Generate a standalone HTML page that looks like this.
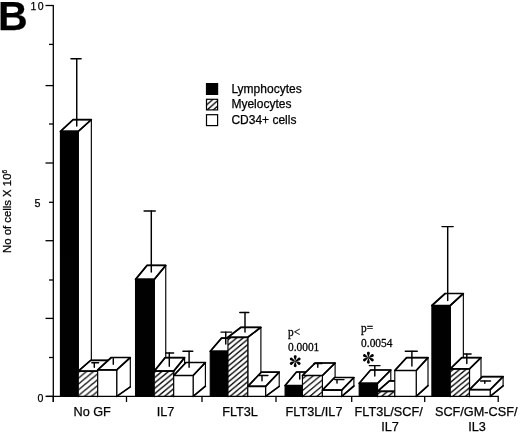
<!DOCTYPE html>
<html><head><meta charset="utf-8"><title>B</title>
<style>
html,body{margin:0;padding:0;background:#fff;}
body{width:520px;height:433px;overflow:hidden;font-family:"Liberation Sans",sans-serif;}
svg{display:block;opacity:0.999;will-change:transform;}
text{font-family:"Liberation Sans",sans-serif;fill:#000;stroke:#000;stroke-width:0.25px;}
.ser{font-family:"Liberation Serif",serif;}
</style></head><body>
<svg width="520" height="433" viewBox="0 0 520 433">
<defs>
<pattern id="hatch0" width="6.99" height="5.8" patternUnits="userSpaceOnUse" patternTransform="translate(1.58,1.2)"><path d="M-3.49,8.7 L10.48,-2.9 M-3.49,2.9 L3.49,-2.9 M3.49,8.7 L10.48,2.9" stroke="#000" stroke-width="1.3" fill="none"/></pattern>
<pattern id="hatch1" width="6.51" height="5.4" patternUnits="userSpaceOnUse" patternTransform="translate(4.86,5)"><path d="M-3.25,8.1 L9.76,-2.7 M-3.25,2.7 L3.25,-2.7 M3.25,8.1 L9.76,2.7" stroke="#000" stroke-width="1.3" fill="none"/></pattern>
<pattern id="hatch2" width="6.39" height="5.3" patternUnits="userSpaceOnUse" patternTransform="translate(5.41,5)"><path d="M-3.19,7.95 L9.58,-2.65 M-3.19,2.65 L3.19,-2.65 M3.19,7.95 L9.58,2.65" stroke="#000" stroke-width="1.3" fill="none"/></pattern>
<pattern id="hatch3" width="7.11" height="5.9" patternUnits="userSpaceOnUse" patternTransform="translate(4.45,0.7)"><path d="M-3.55,8.85 L10.66,-2.95 M-3.55,2.95 L3.55,-2.95 M3.55,8.85 L10.66,2.95" stroke="#000" stroke-width="1.3" fill="none"/></pattern>
<pattern id="hatch4" width="6.63" height="5.5" patternUnits="userSpaceOnUse" patternTransform="translate(1.99,1.8)"><path d="M-3.31,8.25 L9.94,-2.75 M-3.31,2.75 L3.31,-2.75 M3.31,8.25 L9.94,2.75" stroke="#000" stroke-width="1.3" fill="none"/></pattern>
<pattern id="hatch5" width="6.39" height="5.3" patternUnits="userSpaceOnUse" patternTransform="translate(3.81,0.2)"><path d="M-3.19,7.95 L9.58,-2.65 M-3.19,2.65 L3.19,-2.65 M3.19,7.95 L9.58,2.65" stroke="#000" stroke-width="1.3" fill="none"/></pattern>
<pattern id="hatchL" width="6.2" height="5.5" patternUnits="userSpaceOnUse" patternTransform="translate(2.6,5.4)">
<path d="M-3.1,8.25 L9.3,-2.75 M-3.1,2.75 L3.1,-2.75 M3.1,8.25 L9.3,2.75" stroke="#000" stroke-width="1.3" fill="none"/>
</pattern>
</defs>
<rect width="520" height="433" fill="#fff"/>
<text x="-1.9" y="30.1" font-size="41" font-weight="bold" stroke="none">B</text>
<g stroke="#000" stroke-width="1.3" fill="none">
<line x1="53.3" y1="4.9" x2="53.3" y2="402"/>
<line x1="46.2" y1="396.4" x2="498.8" y2="396.4"/>
<line x1="45.5" y1="396.4" x2="53.3" y2="396.4"/>
<line x1="49" y1="357.5" x2="53.3" y2="357.5"/>
<line x1="45.5" y1="318.4" x2="53.3" y2="318.4"/>
<line x1="49" y1="280" x2="53.3" y2="280"/>
<line x1="45.5" y1="240.7" x2="53.3" y2="240.7"/>
<line x1="49" y1="202.3" x2="53.3" y2="202.3"/>
<line x1="45.5" y1="163" x2="53.3" y2="163"/>
<line x1="49" y1="124" x2="53.3" y2="124"/>
<line x1="45.5" y1="85.6" x2="53.3" y2="85.6"/>
<line x1="49" y1="44.4" x2="53.3" y2="44.4"/>
<line x1="45.5" y1="5.5" x2="53.3" y2="5.5"/>
<line x1="53.3" y1="396.4" x2="53.3" y2="402"/>
<line x1="126.5" y1="396.4" x2="126.5" y2="402"/>
<line x1="202" y1="396.4" x2="202" y2="402"/>
<line x1="276" y1="396.4" x2="276" y2="402"/>
<line x1="351.7" y1="396.4" x2="351.7" y2="402"/>
<line x1="424.7" y1="396.4" x2="424.7" y2="402"/>
<line x1="498.2" y1="396.4" x2="498.2" y2="402"/>
</g>
<g stroke="#000" stroke-width="1.15" stroke-linejoin="round" stroke-linecap="round">
<polygon points="78.25,131.4 91.35,119.6 91.35,386.37 78.25,396.4" fill="#fff"/>
<polygon points="60.45,131.4 73.15,119.6 91.35,119.6 78.25,131.4" fill="#fff"/>
<polygon points="60.45,131.4 78.25,131.4 78.25,396.4 60.45,396.4" fill="#000"/>
<path d="M78.25,131.4 L60.45,131.4 L73.15,119.6 L91.35,119.6 L78.25,131.4 M78.25,396.4 L91.35,386.37" fill="none" stroke-width="1.7"/>
<line x1="76.75" y1="58.8" x2="76.75" y2="126" stroke-width="1.45"/>
<line x1="71" y1="58.8" x2="81.1" y2="58.8" stroke-width="1.45"/>
<polygon points="97.7,371.2 110.1,360.4 110.1,387.22 97.7,396.4" fill="#fff"/>
<polygon points="78.25,371.2 90.65,360.4 110.1,360.4 97.7,371.2" fill="#fff"/>
<polygon points="78.25,371.2 97.7,371.2 97.7,396.4 78.25,396.4" fill="#fff" stroke="none"/>
<polygon points="78.25,371.2 97.7,371.2 97.7,396.4 78.25,396.4" fill="url(#hatch0)"/>
<path d="M97.7,371.2 L78.25,371.2 L90.65,360.4 L110.1,360.4 L97.7,371.2 M97.7,396.4 L110.1,387.22" fill="none" stroke-width="1.7"/>
<line x1="94.3" y1="362.7" x2="94.3" y2="367.3" stroke-width="1.45"/>
<line x1="91.8" y1="362.7" x2="98.6" y2="362.7" stroke-width="1.45"/>
<polygon points="116.7,369.9 130.3,357.5 130.3,386.9 116.7,396.4" fill="#fff"/>
<polygon points="97.7,369.9 111.3,357.5 130.3,357.5 116.7,369.9" fill="#fff"/>
<polygon points="97.7,369.9 116.7,369.9 116.7,396.4 97.7,396.4" fill="#fff"/>
<path d="M116.7,369.9 L97.7,369.9 L111.3,357.5 L130.3,357.5 L116.7,369.9 M116.7,396.4 L130.3,386.9" fill="none" stroke-width="1.7"/>
<line x1="113.3" y1="358" x2="113.3" y2="364.2" stroke-width="1.45"/>
<polygon points="154.25,279.4 165.75,265.4 165.75,384.5 154.25,396.4" fill="#fff"/>
<polygon points="135.55,279.4 147.05,265.4 165.75,265.4 154.25,279.4" fill="#fff"/>
<polygon points="135.55,279.4 154.25,279.4 154.25,396.4 135.55,396.4" fill="#000"/>
<path d="M154.25,279.4 L135.55,279.4 L147.05,265.4 L165.75,265.4 L154.25,279.4 M154.25,396.4 L165.75,384.5" fill="none" stroke-width="1.7"/>
<line x1="151.3" y1="210.9" x2="151.3" y2="272" stroke-width="1.45"/>
<line x1="144.1" y1="210.9" x2="155.3" y2="210.9" stroke-width="1.45"/>
<polygon points="173.7,371.1 184.6,357.6 184.6,384.92 173.7,396.4" fill="#fff"/>
<polygon points="154.25,371.1 165.15,357.6 184.6,357.6 173.7,371.1" fill="#fff"/>
<polygon points="154.25,371.1 173.7,371.1 173.7,396.4 154.25,396.4" fill="#fff" stroke="none"/>
<polygon points="154.25,371.1 173.7,371.1 173.7,396.4 154.25,396.4" fill="url(#hatch1)"/>
<path d="M173.7,371.1 L154.25,371.1 L165.15,357.6 L184.6,357.6 L173.7,371.1 M173.7,396.4 L184.6,384.92" fill="none" stroke-width="1.7"/>
<line x1="169.3" y1="353" x2="169.3" y2="366.2" stroke-width="1.45"/>
<line x1="165.7" y1="353" x2="173.6" y2="353" stroke-width="1.45"/>
<polygon points="193.1,375.5 205.4,362.5 205.4,386.2 193.1,396.4" fill="#fff"/>
<polygon points="173.7,375.5 186,362.5 205.4,362.5 193.1,375.5" fill="#fff"/>
<polygon points="173.7,375.5 193.1,375.5 193.1,396.4 173.7,396.4" fill="#fff"/>
<path d="M193.1,375.5 L173.7,375.5 L186,362.5 L205.4,362.5 L193.1,375.5 M193.1,396.4 L205.4,386.2" fill="none" stroke-width="1.7"/>
<line x1="189.1" y1="351.3" x2="189.1" y2="367.3" stroke-width="1.45"/>
<line x1="182.9" y1="351.3" x2="192.8" y2="351.3" stroke-width="1.45"/>
<polygon points="227.95,351.3 239.25,338.1 239.25,385.18 227.95,396.4" fill="#fff"/>
<polygon points="210.25,351.3 221.55,338.1 239.25,338.1 227.95,351.3" fill="#fff"/>
<polygon points="210.25,351.3 227.95,351.3 227.95,396.4 210.25,396.4" fill="#000"/>
<path d="M227.95,351.3 L210.25,351.3 L221.55,338.1 L239.25,338.1 L227.95,351.3 M227.95,396.4 L239.25,385.18" fill="none" stroke-width="1.7"/>
<line x1="225.75" y1="332.1" x2="225.75" y2="344" stroke-width="1.45"/>
<line x1="221" y1="332.1" x2="231.6" y2="332.1" stroke-width="1.45"/>
<polygon points="247.8,337.3 260.9,327.3 260.9,387.9 247.8,396.4" fill="#fff"/>
<polygon points="227.95,337.3 241.05,327.3 260.9,327.3 247.8,337.3" fill="#fff"/>
<polygon points="227.95,337.3 247.8,337.3 247.8,396.4 227.95,396.4" fill="#fff" stroke="none"/>
<polygon points="227.95,337.3 247.8,337.3 247.8,396.4 227.95,396.4" fill="url(#hatch2)"/>
<path d="M247.8,337.3 L227.95,337.3 L241.05,327.3 L260.9,327.3 L247.8,337.3 M247.8,396.4 L260.9,387.9" fill="none" stroke-width="1.7"/>
<line x1="245" y1="312.5" x2="245" y2="332" stroke-width="1.45"/>
<line x1="239.8" y1="312.5" x2="248.8" y2="312.5" stroke-width="1.45"/>
<polygon points="265.6,386.3 279.2,372.2 279.2,386.4 265.6,396.4" fill="#fff"/>
<polygon points="247.8,386.3 261.4,372.2 279.2,372.2 265.6,386.3" fill="#fff"/>
<polygon points="247.8,386.3 265.6,386.3 265.6,396.4 247.8,396.4" fill="#fff"/>
<path d="M265.6,386.3 L247.8,386.3 L261.4,372.2 L279.2,372.2 L265.6,386.3 M265.6,396.4 L279.2,386.4" fill="none" stroke-width="1.7"/>
<line x1="262" y1="375.4" x2="262" y2="380.8" stroke-width="1.45"/>
<line x1="259.3" y1="375.4" x2="267.9" y2="375.4" stroke-width="1.45"/>
<polygon points="302.45,385.5 313.85,372 313.85,384.92 302.45,396.4" fill="#fff"/>
<polygon points="285.1,385.5 296.5,372 313.85,372 302.45,385.5" fill="#fff"/>
<polygon points="285.1,385.5 302.45,385.5 302.45,396.4 285.1,396.4" fill="#000"/>
<path d="M302.45,385.5 L285.1,385.5 L296.5,372 L313.85,372 L302.45,385.5 M302.45,396.4 L313.85,384.92" fill="none" stroke-width="1.7"/>
<line x1="299.7" y1="372.5" x2="299.7" y2="379" stroke-width="1.45"/>
<polygon points="322.4,375.5 335.1,363 335.1,385.77 322.4,396.4" fill="#fff"/>
<polygon points="302.45,375.5 315.15,363 335.1,363 322.4,375.5" fill="#fff"/>
<polygon points="302.45,375.5 322.4,375.5 322.4,396.4 302.45,396.4" fill="#fff" stroke="none"/>
<polygon points="302.45,375.5 322.4,375.5 322.4,396.4 302.45,396.4" fill="url(#hatch3)"/>
<path d="M322.4,375.5 L302.45,375.5 L315.15,363 L335.1,363 L322.4,375.5 M322.4,396.4 L335.1,385.77" fill="none" stroke-width="1.7"/>
<line x1="317.8" y1="363.5" x2="317.8" y2="367.2" stroke-width="1.45"/>
<line x1="313.8" y1="363.5" x2="322" y2="363.5" stroke-width="1.45"/>
<polygon points="341.7,390.1 353.9,377.5 353.9,386 341.7,396.4" fill="#fff"/>
<polygon points="322.4,390.1 334.6,377.5 353.9,377.5 341.7,390.1" fill="#fff"/>
<polygon points="322.4,390.1 341.7,390.1 341.7,396.4 322.4,396.4" fill="#fff"/>
<path d="M341.7,390.1 L322.4,390.1 L334.6,377.5 L353.9,377.5 L341.7,390.1 M341.7,396.4 L353.9,386" fill="none" stroke-width="1.7"/>
<line x1="337" y1="379.6" x2="337" y2="382.9" stroke-width="1.45"/>
<line x1="334.7" y1="379.6" x2="344" y2="379.6" stroke-width="1.45"/>
<polygon points="377.5,383.3 390.8,370 390.8,385.09 377.5,396.4" fill="#fff"/>
<polygon points="359.2,383.3 370.6,370 390.8,370 377.5,383.3" fill="#fff"/>
<polygon points="359.2,383.3 377.5,383.3 377.5,396.4 359.2,396.4" fill="#000"/>
<path d="M377.5,383.3 L359.2,383.3 L370.6,370 L390.8,370 L377.5,383.3 M377.5,396.4 L390.8,385.09" fill="none" stroke-width="1.7"/>
<line x1="374.8" y1="365.6" x2="374.8" y2="376" stroke-width="1.45"/>
<line x1="369.3" y1="365.6" x2="380" y2="365.6" stroke-width="1.45"/>
<polygon points="394.8,391.3 406.8,380.8 406.8,387.47 394.8,396.4" fill="#fff"/>
<polygon points="377.5,391.3 389.5,380.8 406.8,380.8 394.8,391.3" fill="#fff"/>
<polygon points="377.5,391.3 394.8,391.3 394.8,396.4 377.5,396.4" fill="#fff" stroke="none"/>
<polygon points="377.5,391.3 394.8,391.3 394.8,396.4 377.5,396.4" fill="url(#hatch4)"/>
<path d="M394.8,391.3 L377.5,391.3 L389.5,380.8 L406.8,380.8 L394.8,391.3 M394.8,396.4 L406.8,387.47" fill="none" stroke-width="1.7"/>
<polygon points="416.2,370.5 428,357.7 428,385.7 416.2,396.4" fill="#fff"/>
<polygon points="394.8,370.5 406.6,357.7 428,357.7 416.2,370.5" fill="#fff"/>
<polygon points="394.8,370.5 416.2,370.5 416.2,396.4 394.8,396.4" fill="#fff"/>
<path d="M416.2,370.5 L394.8,370.5 L406.6,357.7 L428,357.7 L416.2,370.5 M416.2,396.4 L428,385.7" fill="none" stroke-width="1.7"/>
<line x1="411.9" y1="351.2" x2="411.9" y2="366" stroke-width="1.45"/>
<line x1="405.3" y1="351.2" x2="417.3" y2="351.2" stroke-width="1.45"/>
<polygon points="450.25,305.5 463.35,293.5 463.35,386.2 450.25,396.4" fill="#fff"/>
<polygon points="431.9,305.5 445.2,293.5 463.35,293.5 450.25,305.5" fill="#fff"/>
<polygon points="431.9,305.5 450.25,305.5 450.25,396.4 431.9,396.4" fill="#000"/>
<path d="M450.25,305.5 L431.9,305.5 L445.2,293.5 L463.35,293.5 L450.25,305.5 M450.25,396.4 L463.35,386.2" fill="none" stroke-width="1.7"/>
<line x1="447.7" y1="226.6" x2="447.7" y2="300.4" stroke-width="1.45"/>
<line x1="442" y1="226.6" x2="453.2" y2="226.6" stroke-width="1.45"/>
<polygon points="469.5,368.9 481,357.6 481,386.79 469.5,396.4" fill="#fff"/>
<polygon points="450.25,368.9 461.75,357.6 481,357.6 469.5,368.9" fill="#fff"/>
<polygon points="450.25,368.9 469.5,368.9 469.5,396.4 450.25,396.4" fill="#fff" stroke="none"/>
<polygon points="450.25,368.9 469.5,368.9 469.5,396.4 450.25,396.4" fill="url(#hatch5)"/>
<path d="M469.5,368.9 L450.25,368.9 L461.75,357.6 L481,357.6 L469.5,368.9 M469.5,396.4 L481,386.79" fill="none" stroke-width="1.7"/>
<line x1="466.8" y1="354" x2="466.8" y2="363.4" stroke-width="1.45"/>
<line x1="463.7" y1="354" x2="471.1" y2="354" stroke-width="1.45"/>
<polygon points="490.2,389.7 503.1,376.7 503.1,385.8 490.2,396.4" fill="#fff"/>
<polygon points="469.5,389.7 482.4,376.7 503.1,376.7 490.2,389.7" fill="#fff"/>
<polygon points="469.5,389.7 490.2,389.7 490.2,396.4 469.5,396.4" fill="#fff"/>
<path d="M490.2,389.7 L469.5,389.7 L482.4,376.7 L503.1,376.7 L490.2,389.7 M490.2,396.4 L503.1,385.8" fill="none" stroke-width="1.7"/>
<line x1="484.8" y1="380.9" x2="484.8" y2="383.3" stroke-width="1.45"/>
<line x1="480.6" y1="380.9" x2="490.5" y2="380.9" stroke-width="1.45"/>
</g>
<text x="30.4" y="9.5" font-size="10.5" letter-spacing="1.6">10</text>
<text x="34.5" y="206.8" font-size="10.7">5</text>
<text x="37.4" y="401.5" font-size="10.6">0</text>
<text transform="translate(10.6,253) rotate(-90)" font-size="11.35">No of cells X 10<tspan font-size="6.5" dy="-4">6</tspan></text>
<g font-size="12.7">
<text x="92.2" y="415.6" text-anchor="middle">No GF</text>
<text x="165.5" y="415.6" text-anchor="middle">IL7</text>
<text x="240" y="415.6" text-anchor="middle">FLT3L</text>
<text x="314" y="415.6" text-anchor="middle">FLT3L/IL7</text>
<text x="388.7" y="415.6" text-anchor="middle">FLT3L/SCF/</text>
<text x="390" y="430.5" text-anchor="middle">IL7</text>
<text x="476.2" y="415.6" text-anchor="middle">SCF/GM-CSF/</text>
<text x="477" y="430.5" text-anchor="middle">IL3</text>
</g>
<g stroke="#000" stroke-width="1.2">
<rect x="206.5" y="83.6" width="11.1" height="10.8" fill="#000"/>
<rect x="206.5" y="99.3" width="11.1" height="10.6" fill="url(#hatchL)"/>
<rect x="206.5" y="114.7" width="11.1" height="10.9" fill="#fff"/>
</g>
<g font-size="12">
<text x="231.4" y="93.0">Lymphocytes</text>
<text x="231.4" y="108.3">Myelocytes</text>
<text x="231.4" y="124.0">CD34+ cells</text>
</g>
<g class="ser" font-size="11.4">
<text class="ser" transform="translate(288,335.9) scale(1,1.1)">p&lt;</text>
<text class="ser" transform="translate(288,350.7) scale(1,1.1)">0.0001</text>
<text class="ser" transform="translate(361.1,332.2) scale(1,1.1)">p=</text>
<text class="ser" transform="translate(361.1,346.9) scale(1,1.1)">0.0054</text>
</g>
<g transform="translate(295.2,361.2)" fill="#000" stroke="none"><path transform="rotate(0)" d="M0,0.3 C-0.45,-1.5 -1.45,-3.4 -1.45,-4.6 C-1.45,-5.5 -0.8,-6 0,-6 C0.8,-6 1.45,-5.5 1.45,-4.6 C1.45,-3.4 0.45,-1.5 0,0.3Z"/><path transform="rotate(60)" d="M0,0.3 C-0.45,-1.5 -1.45,-3.4 -1.45,-4.6 C-1.45,-5.5 -0.8,-6 0,-6 C0.8,-6 1.45,-5.5 1.45,-4.6 C1.45,-3.4 0.45,-1.5 0,0.3Z"/><path transform="rotate(120)" d="M0,0.3 C-0.45,-1.5 -1.45,-3.4 -1.45,-4.6 C-1.45,-5.5 -0.8,-6 0,-6 C0.8,-6 1.45,-5.5 1.45,-4.6 C1.45,-3.4 0.45,-1.5 0,0.3Z"/><path transform="rotate(180)" d="M0,0.3 C-0.45,-1.5 -1.45,-3.4 -1.45,-4.6 C-1.45,-5.5 -0.8,-6 0,-6 C0.8,-6 1.45,-5.5 1.45,-4.6 C1.45,-3.4 0.45,-1.5 0,0.3Z"/><path transform="rotate(240)" d="M0,0.3 C-0.45,-1.5 -1.45,-3.4 -1.45,-4.6 C-1.45,-5.5 -0.8,-6 0,-6 C0.8,-6 1.45,-5.5 1.45,-4.6 C1.45,-3.4 0.45,-1.5 0,0.3Z"/><path transform="rotate(300)" d="M0,0.3 C-0.45,-1.5 -1.45,-3.4 -1.45,-4.6 C-1.45,-5.5 -0.8,-6 0,-6 C0.8,-6 1.45,-5.5 1.45,-4.6 C1.45,-3.4 0.45,-1.5 0,0.3Z"/></g>
<g transform="translate(368.4,357.7)" fill="#000" stroke="none"><path transform="rotate(0)" d="M0,0.3 C-0.45,-1.5 -1.45,-3.4 -1.45,-4.6 C-1.45,-5.5 -0.8,-6 0,-6 C0.8,-6 1.45,-5.5 1.45,-4.6 C1.45,-3.4 0.45,-1.5 0,0.3Z"/><path transform="rotate(60)" d="M0,0.3 C-0.45,-1.5 -1.45,-3.4 -1.45,-4.6 C-1.45,-5.5 -0.8,-6 0,-6 C0.8,-6 1.45,-5.5 1.45,-4.6 C1.45,-3.4 0.45,-1.5 0,0.3Z"/><path transform="rotate(120)" d="M0,0.3 C-0.45,-1.5 -1.45,-3.4 -1.45,-4.6 C-1.45,-5.5 -0.8,-6 0,-6 C0.8,-6 1.45,-5.5 1.45,-4.6 C1.45,-3.4 0.45,-1.5 0,0.3Z"/><path transform="rotate(180)" d="M0,0.3 C-0.45,-1.5 -1.45,-3.4 -1.45,-4.6 C-1.45,-5.5 -0.8,-6 0,-6 C0.8,-6 1.45,-5.5 1.45,-4.6 C1.45,-3.4 0.45,-1.5 0,0.3Z"/><path transform="rotate(240)" d="M0,0.3 C-0.45,-1.5 -1.45,-3.4 -1.45,-4.6 C-1.45,-5.5 -0.8,-6 0,-6 C0.8,-6 1.45,-5.5 1.45,-4.6 C1.45,-3.4 0.45,-1.5 0,0.3Z"/><path transform="rotate(300)" d="M0,0.3 C-0.45,-1.5 -1.45,-3.4 -1.45,-4.6 C-1.45,-5.5 -0.8,-6 0,-6 C0.8,-6 1.45,-5.5 1.45,-4.6 C1.45,-3.4 0.45,-1.5 0,0.3Z"/></g>
</svg>
</body></html>
